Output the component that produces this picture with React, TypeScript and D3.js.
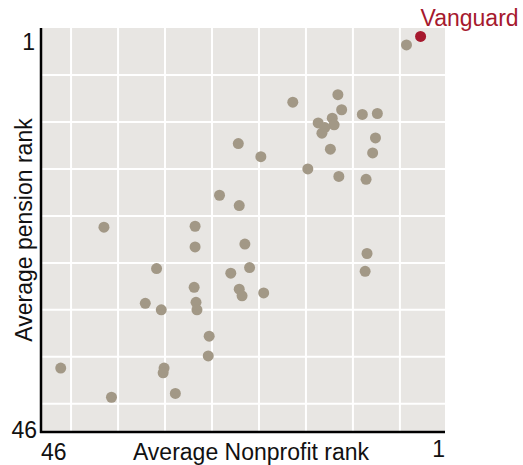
import React from "react";
import * as d3 from "d3";

// average ranks (index 0 = Vanguard)
const nonprofitRank = [
  2.8, 4.3, 16.4, 11.6, 11.2, 9.0, 7.4, 12.2, 13.7, 12.0, 13.0, 13.3, 7.6, 12.4, 7.9, 19.8,
  22.2, 14.8, 11.5, 8.6, 24.2, 22.1, 36.5, 26.8, 26.8, 21.5, 21.0, 8.5, 8.7, 30.9, 23.0,
  19.5, 22.1, 21.8, 26.9, 32.1, 30.4, 26.7, 26.6, 25.3, 25.4, 41.1, 30.1, 30.2, 35.7, 28.9,
];
const pensionRank = [
  0.9, 1.8, 7.9, 7.1, 8.7, 9.2, 9.1, 9.6, 10.1, 10.3, 10.6, 11.2, 11.7, 12.9, 13.3, 13.7,
  12.3, 15.0, 15.8, 16.1, 17.8, 18.9, 21.2, 21.1, 23.3, 23.0, 25.5, 24.0, 25.9, 25.6, 26.1,
  28.2, 27.8, 28.5, 27.6, 29.3, 30.0, 29.2, 30.0, 32.8, 34.9, 36.2, 36.2, 36.7, 39.3, 38.9,
];
const highlightName = "Vanguard";
const highlightIndex = 0;

const xGrid = [40, 35, 30, 25, 20, 15, 10, 5];
const yGrid = [5, 10, 15, 20, 25, 30, 35, 40];
const xEnds = ["46", "1"];
const yEnds = ["1", "46"];

const W = 523;
const H = 465;
const panel = { left: 41, top: 28, right: 445, bottom: 432 };
const font = "'Liberation Sans', Arial, sans-serif";
const grey = "#a29886";
const red = "#a6192e";
const fs = 23;

export default function App() {
  const x = d3.scaleLinear().domain([43.2, 0.2]).range([panel.left, panel.right]);
  const y = d3.scaleLinear().domain([0, 43]).range([panel.top, panel.bottom]);
  const idx = d3.range(nonprofitRank.length).filter((i) => i !== highlightIndex);

  return (
    <svg
      width={W}
      height={H}
      style={{ position: "absolute", left: 0, top: 0 }}
      fontFamily={font}
    >
      <rect
        x={panel.left}
        y={panel.top}
        width={panel.right - panel.left}
        height={panel.bottom - panel.top}
        fill="#e8e6e3"
      />
      {xGrid.map((v) => (
        <line key={"gx" + v} x1={x(v)} x2={x(v)} y1={panel.top} y2={panel.bottom} stroke="#fff" strokeWidth={2} />
      ))}
      {yGrid.map((v) => (
        <line key={"gy" + v} x1={panel.left} x2={panel.right} y1={y(v)} y2={y(v)} stroke="#fff" strokeWidth={2} />
      ))}

      {idx.map((i) => (
        <circle key={i} cx={x(nonprofitRank[i])} cy={y(pensionRank[i])} r={5.5} fill={grey} />
      ))}
      <circle
        cx={x(nonprofitRank[highlightIndex])}
        cy={y(pensionRank[highlightIndex])}
        r={5.5}
        fill={red}
      />
      <text x={x(nonprofitRank[highlightIndex])} y={26} fill={red} fontSize={fs}>
        {highlightName}
      </text>

      {/* axes */}
      <line x1={panel.left} x2={panel.left} y1={panel.top} y2={panel.bottom + 1} stroke="#000" strokeWidth={2.5} />
      <line x1={panel.left - 1} x2={panel.right} y1={panel.bottom} y2={panel.bottom} stroke="#000" strokeWidth={2.5} />

      {/* corner labels */}
      <text x={panel.left} y={460} fontSize={fs} fill="#111">{xEnds[0]}</text>
      <text x={panel.right} y={457} fontSize={fs} fill="#111" textAnchor="end">{xEnds[1]}</text>
      <text x={35} y={50} fontSize={fs} fill="#111" textAnchor="end">{yEnds[0]}</text>
      <text x={37} y={438} fontSize={fs} fill="#111" textAnchor="end">{yEnds[1]}</text>

      <text x={251} y={460} fontSize={fs} fill="#111" textAnchor="middle">
        Average Nonprofit rank
      </text>
      <text
        transform={`translate(32, ${(panel.top + panel.bottom) / 2}) rotate(-90)`}
        fontSize={fs}
        fill="#111"
        textAnchor="middle"
      >
        Average pension rank
      </text>
    </svg>
  );
}
